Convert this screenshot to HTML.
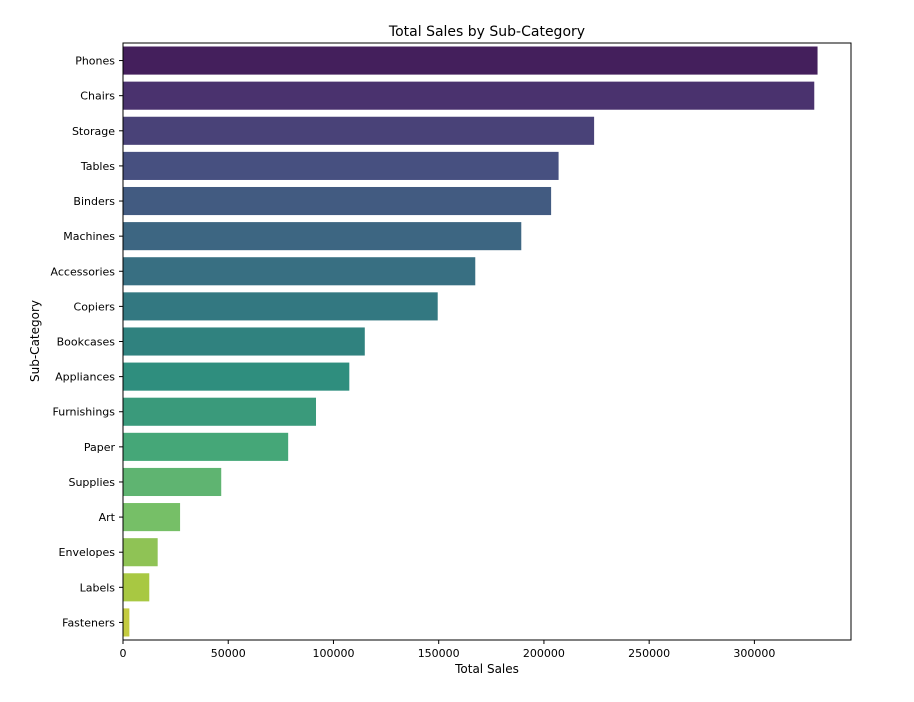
<!DOCTYPE html>
<html><head><meta charset="utf-8"><style>
body{margin:0;background:#fff;}
svg text{font-family:"DejaVu Sans","Liberation Sans",sans-serif;fill:#000;}
</style></head><body>
<svg id="chart" width="914" height="697">
<text x="487" y="36" font-size="14" text-anchor="middle">Total Sales by Sub-Category</text>
<text x="487" y="673" font-size="12" text-anchor="middle">Total Sales</text>
<text transform="translate(39,341) rotate(-90)" font-size="12" text-anchor="middle">Sub-Category</text>
<g id="bars"></g>
<g id="axes"></g>
</svg>
<script>
const categories=["Phones","Chairs","Storage","Tables","Binders","Machines","Accessories","Copiers","Bookcases","Appliances","Furnishings","Paper","Supplies","Art","Envelopes","Labels","Fasteners"];
const sales=[330007,328449,223844,206966,203413,189239,167380,149528,114880,107532,91705,78479,46674,27119,16476,12486,3024];
const xTicks=[0,50000,100000,150000,200000,250000,300000];
const L=123,R=851,T=43,B=640,xMax=345900;
const xs=v=>L+(R-L)*v/xMax;
const step=(B-T)/categories.length;
const ys=i=>T+step*(i+0.5);
const vir=[[68,1,84],[72,40,120],[62,74,137],[49,104,142],[38,130,142],[31,158,137],[53,183,121],[109,205,89],[180,222,44],[253,231,37]];
function desat(rgb,s){const [r,g,b]=rgb.map(c=>c/255);const mx=Math.max(r,g,b),mn=Math.min(r,g,b),l=(mx+mn)/2;
 if(mx===mn)return rgb;const d=mx-mn;let S=l>0.5?d/(2-mx-mn):d/(mx+mn);let h;
 if(mx===r)h=((g-b)/d+(g<b?6:0));else if(mx===g)h=(b-r)/d+2;else h=(r-g)/d+4;h/=6;S*=s;
 const q=l<0.5?l*(1+S):l+S-l*S,p=2*l-q;const f=t=>{t=(t+1)%1;return t<1/6?p+(q-p)*6*t:t<1/2?q:t<2/3?p+(q-p)*(2/3-t)*6:p;};
 return [f(h+1/3),f(h),f(h-1/3)].map(c=>Math.round(c*255));}
function viridis(t){const p=t*9,i=Math.min(8,Math.floor(p)),f=p-i;const a=vir[i],b=vir[i+1];return `rgb(${desat(a.map((c,k)=>c+(b[k]-c)*f),0.75).join(',')})`;}
const NS="http://www.w3.org/2000/svg";
const g=document.getElementById('bars'),ax=document.getElementById('axes');
function mk(tag,attrs,parent){const e=document.createElementNS(NS,tag);for(const k in attrs)e.setAttribute(k,attrs[k]);parent.appendChild(e);return e;}
categories.forEach((c,i)=>{
 const r=mk('rect',{x:xs(0),y:ys(i)-step*0.4,width:xs(sales[i])-xs(0),height:step*0.8,fill:viridis((i+1)/(categories.length+1))},g);
 
 
 mk('line',{x1:L-4,x2:L,y1:ys(i),y2:ys(i),stroke:'#000'},ax);
 const t=mk('text',{x:L-8,y:ys(i)+4,'font-size':11,'text-anchor':'end'},ax);
 t.textContent=c;
 
 
});
xTicks.forEach(v=>{
 mk('line',{x1:xs(v),x2:xs(v),y1:B,y2:B+4,stroke:'#000'},ax);
 const t=mk('text',{x:xs(v),y:B+17,'font-size':11,'text-anchor':'middle'},ax);
 t.textContent=v;
 
 
});
const f=mk('rect',{x:L,y:T,width:R-L,height:B-T,fill:'none',stroke:'#000','stroke-width':1},ax);


</script>
</body></html>
